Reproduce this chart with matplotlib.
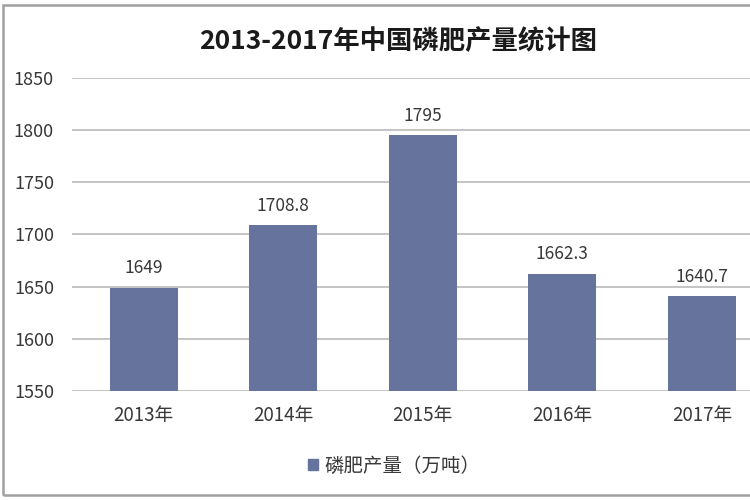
import matplotlib
matplotlib.use("Agg")
import matplotlib.pyplot as plt
from matplotlib.patches import Rectangle, Patch

plt.rcParams['font.family'] = ['Noto Sans CJK SC', 'DejaVu Sans']

years = ["2013年", "2014年", "2015年", "2016年", "2017年"]
values = [1649, 1708.8, 1795, 1662.3, 1640.7]
labels = ["1649", "1708.8", "1795", "1662.3", "1640.7"]
yticks = [1550, 1600, 1650, 1700, 1750, 1800, 1850]
title = "2013-2017年中国磷肥产量统计图"
legend_label = "磷肥产量（万吨）"

bar_color = "#66739c"
text_color = "#383838"

fig = plt.figure(figsize=(7.5, 5), dpi=100)
ax = fig.add_axes([72/750, 1-391/500, 1-72/750, (391-78)/500])

x = list(range(len(years)))
ax.bar(x, values, width=68/139.5, color=bar_color, zorder=3)
ax.set_ylim(1550, 1850)
ax.set_xlim(-0.514, 4.344)
ax.set_yticks(yticks)
ax.set_xticks(x)
ax.set_xticklabels(years, fontsize=13.5, color=text_color)
ax.tick_params(axis='y', labelsize=13, colors=text_color, length=0, pad=13)
ax.tick_params(axis='x', length=0, pad=10)
ax.grid(axis='y', color="#bfbfbf", linewidth=1.3, zorder=0)
for s in ax.spines.values():
    s.set_visible(False)

for xi, v, lab in zip(x, values, labels):
    ax.text(xi, v + 10, lab, ha='center', va='bottom', fontsize=12.5, color=text_color)

fig.text(398/750, 1-41/500, title, ha='center', va='center', fontsize=19, fontweight='bold', color="#1a1a1a")

fig.legend(handles=[Patch(color=bar_color, label=legend_label)], loc='center',
           bbox_to_anchor=(394/750, 1-466/500), frameon=False, fontsize=14,
           handlelength=0.55, handleheight=0.55, handletextpad=0.3, labelcolor=text_color)

fig.patches.append(Rectangle((3/750, 5/500), 1.0, 1-10/500, transform=fig.transFigure,
                             fill=False, edgecolor="#a0a0a0", linewidth=1.8))

fig.savefig("out.png", dpi=100)
